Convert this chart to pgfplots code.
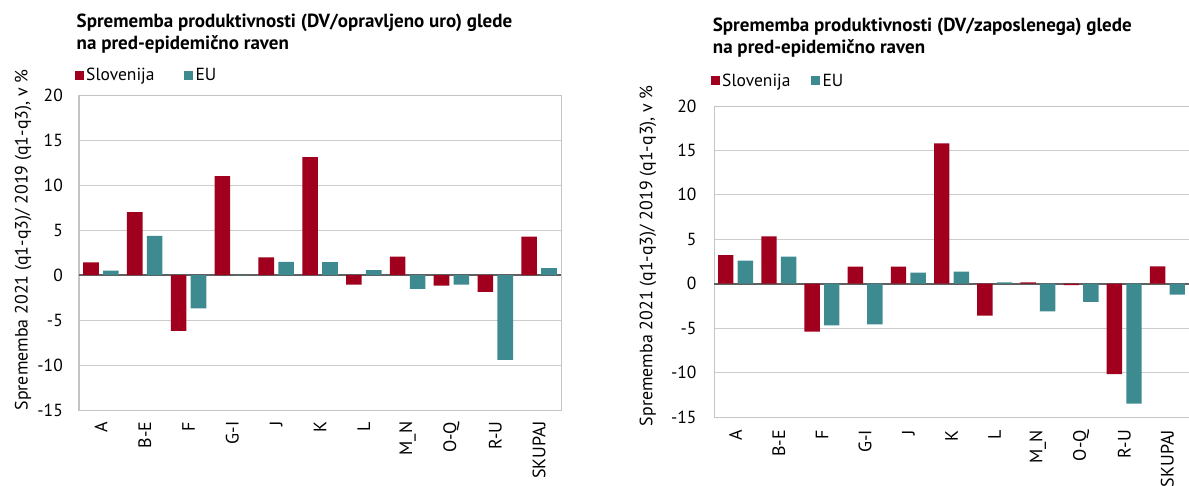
\documentclass[border=0pt]{standalone}
\usepackage{fontspec}
\setmainfont{PT Sans}
\usepackage{pgfplots}
\pgfplotsset{compat=1.18}
\definecolor{si}{HTML}{A0001E}
\definecolor{eu}{HTML}{3E8A91}
\definecolor{gridc}{HTML}{CCCCCC}
\definecolor{axisc}{HTML}{C4C4C4}
\definecolor{zeroc}{HTML}{606060}
\newcommand\tfont{\bfseries\fontsize{19}{22}\selectfont}
\newcommand\rfont{\fontsize{17.5}{21}\selectfont}
\newcommand\xfont{\fontsize{18}{21}\selectfont}
\newcommand\lfont{\fontsize{17.9}{21}\selectfont}
\pgfplotsset{
  sqlegend/.style={legend image code/.code={\fill[##1] (0pt,-4.6pt) rectangle (9.4pt,4.6pt);}},
  mystyle/.style={
    scale only axis, ybar=4.3pt, bar width=15.6pt,
    ymin=-15, ymax=20, ytick={-15,-10,...,20},
    xmin=-0.5, xmax=10.5, xtick={0,...,10},
    xticklabels={A,B-E,F,G-I,J,K,L,M\_N,O-Q,R-U,SKUPAJ},
    ymajorgrids, grid style={color=gridc, line width=1pt},
    axis line style={color=axisc, line width=1pt},
    major tick length=0pt,
    /pgf/number format/assume math mode=true,
    xticklabel style={font=\xfont, rotate=90, anchor=east, inner sep=0pt},
    yticklabel style={font=\rfont, anchor=east, inner sep=0pt},
    extra y ticks={0}, extra y tick labels={},
    extra y tick style={grid style={color=zeroc, line width=1.6pt}},
    ylabel style={rotate=0, font=\lfont, inner sep=0pt},
    legend columns=2,
    legend style={draw=none, fill=none, anchor=west, inner sep=0pt,
      font=\rfont, nodes={inner sep=2.3pt}},
  }
}
\begin{document}
\begin{tikzpicture}
\path[use as bounding box] (0,0) rectangle (1189pt,-485pt);
\node[anchor=base west, font=\tfont, inner sep=0pt] at (76.5pt,-27.2pt) {Sprememba produktivnosti (DV/opravljeno uro) glede};
\node[anchor=base west, font=\tfont, inner sep=0pt] at (76.5pt,-49pt) {na pred-epidemično raven};
\node[anchor=base west, font=\tfont, inner sep=0pt] at (712.7pt,-31.5pt) {Sprememba produktivnosti (DV/zaposlenega) glede};
\node[anchor=base west, font=\tfont, inner sep=0pt] at (712.7pt,-53pt) {na pred-epidemično raven};

\begin{axis}[mystyle, at={(79pt,-410pt)}, anchor=south west,
  width=482pt, height=315pt, yticklabel shift=16pt, xticklabel shift=11.5pt,
  ylabel={Sprememba 2021 (q1-q3)/ 2019 (q1-q3), v \%},
  ylabel style={at={(axis description cs:-0.116,0.54)}, anchor=center},
  legend style={at={(axis description cs:-0.0097,1.063)},
    /tikz/every even column/.append style={column sep=27pt}}]
\addplot[fill=si, draw=none, sqlegend] coordinates {(0,1.4) (1,7.0) (2,-6.2) (3,11.0) (4,1.95) (5,13.1) (6,-1.07) (7,2.03) (8,-1.18) (9,-1.88) (10,4.27)};
\addplot[fill=eu, draw=none, sqlegend] coordinates {(0,0.48) (1,4.35) (2,-3.7) (3,-0.05) (4,1.47) (5,1.44) (6,0.55) (7,-1.55) (8,-1.07) (9,-9.43) (10,0.77)};
\legend{Slovenija,EU}
\end{axis}

\begin{axis}[mystyle, at={(714pt,-417pt)}, anchor=south west,
  width=475pt, height=311pt, yticklabel shift=17.3pt, xticklabel shift=13pt, bar width=15.4pt, ybar=4.2pt,
  ylabel={Sprememba 2021 (q1-q3)/ 2019 (q1-q3), v \%},
  ylabel style={at={(axis description cs:-0.139,0.519)}, anchor=center},
  legend style={at={(axis description cs:-0.0077,1.081)},
    /tikz/every even column/.append style={column sep=18pt}}]
\addplot[fill=si, draw=none, sqlegend] coordinates {(0,3.23) (1,5.33) (2,-5.4) (3,1.91) (4,1.91) (5,15.8) (6,-3.6) (7,0.15) (8,-0.15) (9,-10.17) (10,1.95)};
\addplot[fill=eu, draw=none, sqlegend] coordinates {(0,2.59) (1,3.04) (2,-4.69) (3,-4.58) (4,1.24) (5,1.35) (6,0.15) (7,-3.11) (8,-2.03) (9,-13.5) (10,-1.24)};
\legend{Slovenija,EU}
\end{axis}
\end{tikzpicture}
\end{document}
